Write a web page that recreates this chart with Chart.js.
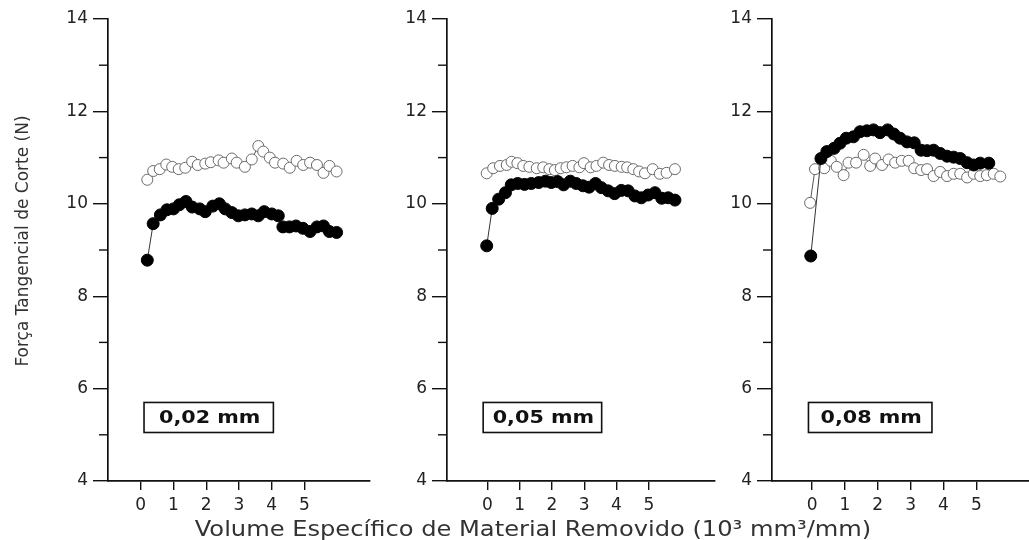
<!DOCTYPE html>
<html><head><meta charset="utf-8">
<script src="https://cdn.jsdelivr.net/npm/chart.js@4.4.0/dist/chart.umd.min.js"></script>
<style>
html,body{margin:0;padding:0;background:#fff;overflow:hidden;width:1029px;height:540px;}
#wrap{position:relative;width:1029px;height:540px;overflow:hidden;background:#fff;}
#wrap canvas{position:absolute;left:0;top:0;}
</style></head><body>
<div id="wrap">
<canvas id="c1" width="1060" height="540"></canvas>
<canvas id="c2" width="1060" height="540"></canvas>
<canvas id="c3" width="1060" height="540"></canvas>
</div>
<script>
// ---- data ----
const yTicksMajor = [4, 6, 8, 10, 12, 14];
const yTicksMinor = [5, 7, 9, 11, 13];
const xTicks = [0, 1, 2, 3, 4, 5];
const panelLabels = ['0,02 mm', '0,05 mm', '0,08 mm'];
const yAxisTitle = 'Força Tangencial de Corte (N)';
const xAxisTitle = 'Volume Específico de Material Removido (10³ mm³/mm)';

// panel 1 (0,02 mm)
const p1FilledX = [0.2,0.38,0.6,0.8,1.0,1.18,1.38,1.57,1.8,1.97,2.2,2.4,2.58,2.78,2.98,3.18,3.39,3.59,3.77,4.0,4.2,4.34,4.54,4.74,4.95,5.17,5.38,5.58,5.76,5.98];
const p1FilledY = [8.78,9.57,9.76,9.87,9.89,9.98,10.05,9.93,9.89,9.83,9.95,10.0,9.89,9.81,9.74,9.76,9.78,9.74,9.83,9.78,9.74,9.50,9.50,9.52,9.47,9.40,9.50,9.52,9.40,9.38];
const p1OpenX = [0.2,0.38,0.58,0.78,0.96,1.16,1.36,1.57,1.74,1.97,2.14,2.38,2.53,2.78,2.93,3.18,3.39,3.59,3.74,3.94,4.1,4.35,4.55,4.76,4.96,5.17,5.38,5.58,5.76,5.98];
const p1OpenY = [10.52,10.71,10.75,10.85,10.80,10.75,10.78,10.91,10.84,10.87,10.90,10.94,10.89,10.98,10.89,10.80,10.96,11.25,11.13,11.00,10.89,10.87,10.78,10.93,10.84,10.89,10.84,10.67,10.82,10.70];

// panel 2 (0,05 mm)
const p2FilledX = [-0.02,0.15,0.35,0.56,0.74,0.94,1.15,1.36,1.59,1.80,1.98,2.18,2.36,2.57,2.75,2.96,3.15,3.35,3.53,3.74,3.94,4.15,4.36,4.57,4.77,4.98,5.19,5.40,5.60,5.81];
const p2FilledY = [9.09,9.90,10.10,10.24,10.41,10.44,10.42,10.44,10.46,10.49,10.46,10.48,10.41,10.49,10.44,10.39,10.36,10.44,10.35,10.28,10.22,10.29,10.28,10.17,10.13,10.19,10.24,10.12,10.13,10.08];
const p2OpenX = [-0.02,0.18,0.39,0.60,0.75,0.93,1.11,1.30,1.53,1.73,1.92,2.09,2.27,2.45,2.64,2.85,2.99,3.20,3.38,3.59,3.77,3.95,4.16,4.33,4.52,4.70,4.88,5.12,5.34,5.55,5.81];
const p2OpenY = [10.66,10.77,10.82,10.84,10.91,10.88,10.82,10.80,10.77,10.79,10.75,10.73,10.77,10.79,10.82,10.79,10.88,10.79,10.82,10.89,10.84,10.82,10.80,10.79,10.75,10.70,10.66,10.75,10.65,10.67,10.75];

// panel 3 (0,08 mm)
const p3FilledX = [-0.04,0.27,0.45,0.67,0.85,1.04,1.26,1.46,1.67,1.87,2.07,2.30,2.49,2.68,2.89,3.11,3.32,3.50,3.70,3.90,4.11,4.31,4.51,4.72,4.92,5.12,5.38];
const p3FilledY = [8.87,10.98,11.13,11.20,11.31,11.42,11.45,11.56,11.58,11.60,11.54,11.60,11.51,11.42,11.34,11.32,11.16,11.15,11.16,11.09,11.03,11.01,10.98,10.89,10.84,10.88,10.88];
const p3OpenX = [-0.06,0.09,0.37,0.57,0.75,0.96,1.11,1.34,1.57,1.77,1.92,2.13,2.33,2.53,2.73,2.94,3.11,3.32,3.50,3.70,3.90,4.11,4.31,4.51,4.72,4.92,5.12,5.32,5.53,5.73];
const p3OpenY = [10.02,10.75,10.77,10.93,10.80,10.62,10.89,10.89,11.06,10.82,10.98,10.84,10.96,10.89,10.93,10.93,10.77,10.73,10.75,10.60,10.69,10.60,10.65,10.65,10.57,10.65,10.60,10.62,10.65,10.59];

// ---- drawing ----
const FONT = 'DejaVu Sans';
const AXIS_COLOR = '#111';

function pts(xs, ys) { return xs.map((x, i) => ({x: x, y: ys[i]})); }

const decor = {
  id: 'decor',
  afterDraw(chart, args, opts) {
    const ctx = chart.ctx, xs = chart.scales.x, ys = chart.scales.y;
    const left = chart.chartArea.left;
    ctx.save();
    ctx.strokeStyle = AXIS_COLOR;
    ctx.lineWidth = 1.4;
    yTicksMinor.forEach(v => {
      const py = ys.getPixelForValue(v);
      ctx.beginPath(); ctx.moveTo(left - 9, py); ctx.lineTo(left, py); ctx.stroke();
    });
    // label box
    const b = opts.box;
    const x0 = xs.getPixelForValue(b.x0), x1 = xs.getPixelForValue(b.x1);
    const y0 = ys.getPixelForValue(b.y0), y1 = ys.getPixelForValue(b.y1);
    ctx.lineWidth = 1.6;
    ctx.strokeRect(x0, y0, x1 - x0, y1 - y0);
    ctx.fillStyle = '#111';
    ctx.font = 'bold 18px "' + FONT + '"';
    ctx.textAlign = 'center';
    ctx.textBaseline = 'middle';
    ctx.save();
    ctx.translate((x0 + x1) / 2 + 1, (y0 + y1) / 2 + 1);
    ctx.scale(1.15, 1);
    ctx.fillText(opts.label, 0, 0);
    ctx.restore();
    if (opts.titles) {
      ctx.fillStyle = '#333';
      ctx.save();
      ctx.font = '17px "' + FONT + '"';
      ctx.translate(24, 241);
      ctx.rotate(-Math.PI / 2);
      ctx.textAlign = 'center';
      ctx.textBaseline = 'middle';
      ctx.fillText(yAxisTitle, 0, 0);
      ctx.restore();
      ctx.save();
      ctx.font = '21px "' + FONT + '"';
      ctx.translate(533, 536);
      ctx.scale(1.15, 1);
      ctx.textAlign = 'center';
      ctx.textBaseline = 'alphabetic';
      ctx.fillText(xAxisTitle, 0, 0);
      ctx.restore();
    }
    ctx.restore();
  }
};

function makePanel(id, filledX, filledY, openX, openY, cfg) {
  return new Chart(document.getElementById(id), {
    type: 'scatter',
    data: {
      datasets: [
        {
          data: pts(filledX, filledY), showLine: true, order: 0,
          borderColor: '#333', borderWidth: 1,
          pointRadius: 6, pointBackgroundColor: '#000', pointBorderColor: '#000', pointBorderWidth: 1
        },
        {
          data: pts(openX, openY), showLine: true, order: 1,
          borderColor: '#555', borderWidth: 1,
          pointRadius: 5.5, pointBackgroundColor: '#fff', pointBorderColor: '#6a6a6a', pointBorderWidth: 1
        }
      ]
    },
    options: {
      responsive: false, animation: false, devicePixelRatio: 1,
      layout: {padding: {left: cfg.padLeft, right: cfg.padRight, top: 19, bottom: 19}},
      plugins: {legend: {display: false}, tooltip: {enabled: false},
        decor: {box: cfg.box, label: cfg.label, titles: cfg.titles}},
      scales: {
        x: {
          type: 'linear', min: cfg.xMin, max: cfg.xMax,
          afterBuildTicks: s => { s.ticks = xTicks.map(v => ({value: v})); },
          afterFit: s => { s.height = 40; },
          border: {display: true, color: AXIS_COLOR, width: 1.7},
          grid: {drawOnChartArea: false, drawTicks: true, tickLength: 9, color: AXIS_COLOR, lineWidth: 1.4},
          ticks: {padding: 5, color: '#222', font: {family: FONT, size: 17}, maxRotation: 0, autoSkip: false}
        },
        y: {
          type: 'linear', min: 4, max: 14,
          afterBuildTicks: s => { s.ticks = yTicksMajor.map(v => ({value: v})); },
          afterFit: s => { s.width = cfg.yWidth; },
          border: {display: true, color: AXIS_COLOR, width: 1.7},
          grid: {drawOnChartArea: false, drawTicks: true, tickLength: 15, color: AXIS_COLOR, lineWidth: 1.4},
          ticks: {padding: 5, color: '#222', font: {family: FONT, size: 17}}
        }
      }
    },
    plugins: [decor]
  });
}

makePanel('c1', p1FilledX, p1FilledY, p1OpenX, p1OpenY,
  {padLeft: 0, padRight: 690, yWidth: 108, xMin: -1, xMax: 7, titles: true,
   label: panelLabels[0], box: {x0: 0.10, x1: 4.05, y0: 5.70, y1: 5.05}});
makePanel('c2', p2FilledX, p2FilledY, p2OpenX, p2OpenY,
  {padLeft: 387, padRight: 345, yWidth: 60, xMin: -1.25, xMax: 7.05, titles: false,
   label: panelLabels[1], box: {x0: -0.13, x1: 3.54, y0: 5.70, y1: 5.05}});
makePanel('c3', p3FilledX, p3FilledY, p3OpenX, p3OpenY,
  {padLeft: 712, padRight: 18, yWidth: 60, xMin: -1.22, xMax: 7, titles: false,
   label: panelLabels[2], box: {x0: -0.11, x1: 3.65, y0: 5.70, y1: 5.05}});
</script>
</body></html>
